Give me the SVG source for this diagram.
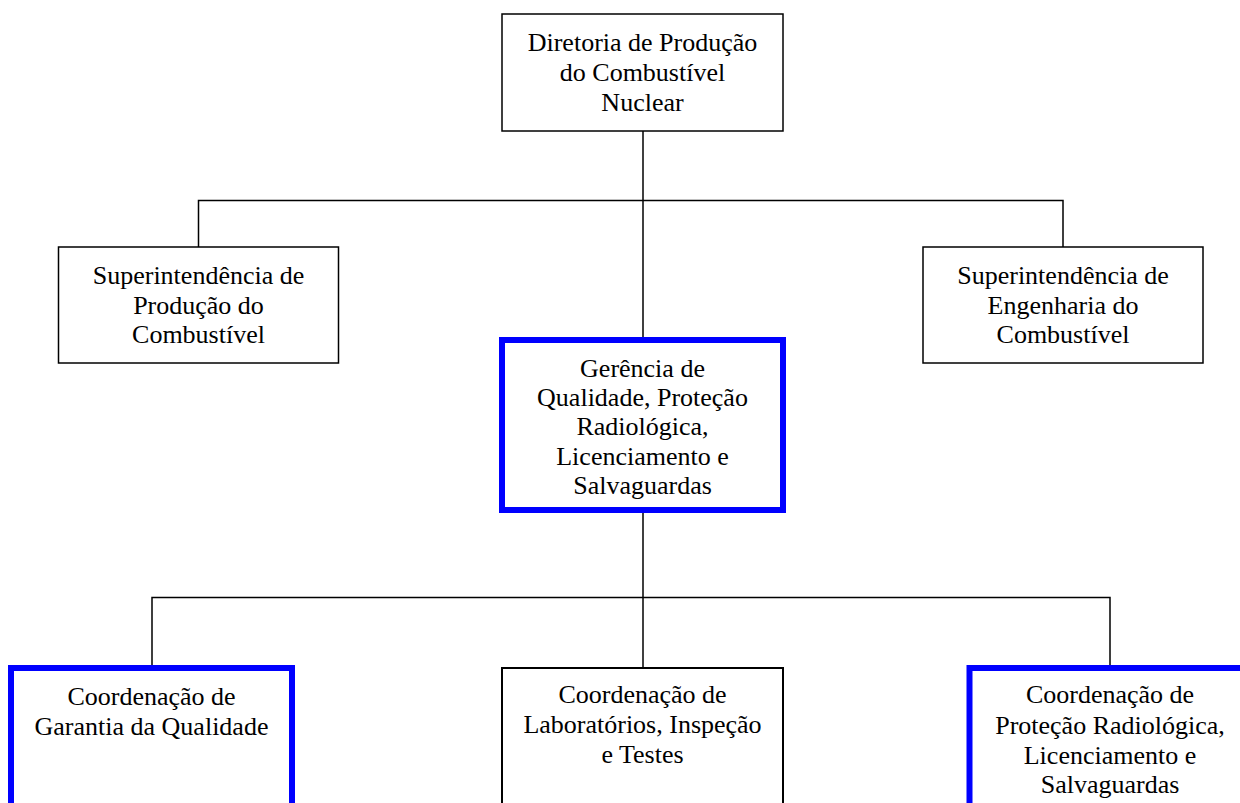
<svg xmlns="http://www.w3.org/2000/svg" width="1240" height="803" viewBox="0 0 1240 803">
<style>
.box{fill:#fff;stroke:#000;stroke-width:1.5}
.box2{fill:#fff;stroke:#000;stroke-width:2}
.blue{fill:#fff;stroke:#0000ff;stroke-width:6}
.lbl{font-family:"Liberation Serif","Times New Roman",serif;font-size:26px;fill:#000;text-anchor:middle}
.ln{stroke:#000;stroke-width:1.5;fill:none}
</style>
<rect width="1240" height="803" fill="#fff"/>
<g id="connectors">
<line class="ln" x1="643" y1="131" x2="643" y2="340"/>
<polyline class="ln" points="198.5,247 198.5,200.5 1063,200.5 1063,247"/>
<line class="ln" x1="643" y1="510" x2="643" y2="668"/>
<polyline class="ln" points="152,668 152,597.5 1110,597.5 1110,668"/>
</g>
<g id="n-diretoria">
<rect class="box" x="502" y="14" width="281" height="117"/>
<text class="lbl" x="642.5" y="50.5">Diretoria de Produção</text>
<text class="lbl" x="642.5" y="80.5">do Combustível</text>
<text class="lbl" x="642.5" y="110.5">Nuclear</text>
</g>
<g id="n-sup-producao">
<rect class="box" x="58.5" y="247" width="280" height="116"/>
<text class="lbl" x="198.5" y="283.5">Superintendência de</text>
<text class="lbl" x="198.5" y="313.5">Produção do</text>
<text class="lbl" x="198.5" y="343">Combustível</text>
</g>
<g id="n-sup-engenharia">
<rect class="box" x="923" y="247" width="280" height="116"/>
<text class="lbl" x="1063" y="283.5">Superintendência de</text>
<text class="lbl" x="1063" y="313.5">Engenharia do</text>
<text class="lbl" x="1063" y="343">Combustível</text>
</g>
<g id="n-gerencia">
<rect class="blue" x="502" y="340" width="281" height="170"/>
<text class="lbl" x="642.5" y="376.5">Gerência de</text>
<text class="lbl" x="642.5" y="405.5">Qualidade, Proteção</text>
<text class="lbl" x="642.5" y="435">Radiológica,</text>
<text class="lbl" x="642.5" y="464.5">Licenciamento e</text>
<text class="lbl" x="642.5" y="494">Salvaguardas</text>
</g>
<g id="n-garantia">
<rect class="blue" x="11" y="668" width="281" height="150"/>
<text class="lbl" x="151.5" y="705">Coordenação de</text>
<text class="lbl" x="151.5" y="735">Garantia da Qualidade</text>
</g>
<g id="n-laboratorios">
<rect class="box2" x="502" y="668" width="281" height="150"/>
<text class="lbl" x="642.5" y="703">Coordenação de</text>
<text class="lbl" x="642.5" y="733">Laboratórios, Inspeção</text>
<text class="lbl" x="642.5" y="763">e Testes</text>
</g>
<g id="n-protecao">
<rect class="blue" x="969.5" y="668" width="281" height="150"/>
<text class="lbl" x="1110" y="703">Coordenação de</text>
<text class="lbl" x="1110" y="734">Proteção Radiológica,</text>
<text class="lbl" x="1110" y="764">Licenciamento e</text>
<text class="lbl" x="1110" y="793">Salvaguardas</text>
</g>
</svg>
